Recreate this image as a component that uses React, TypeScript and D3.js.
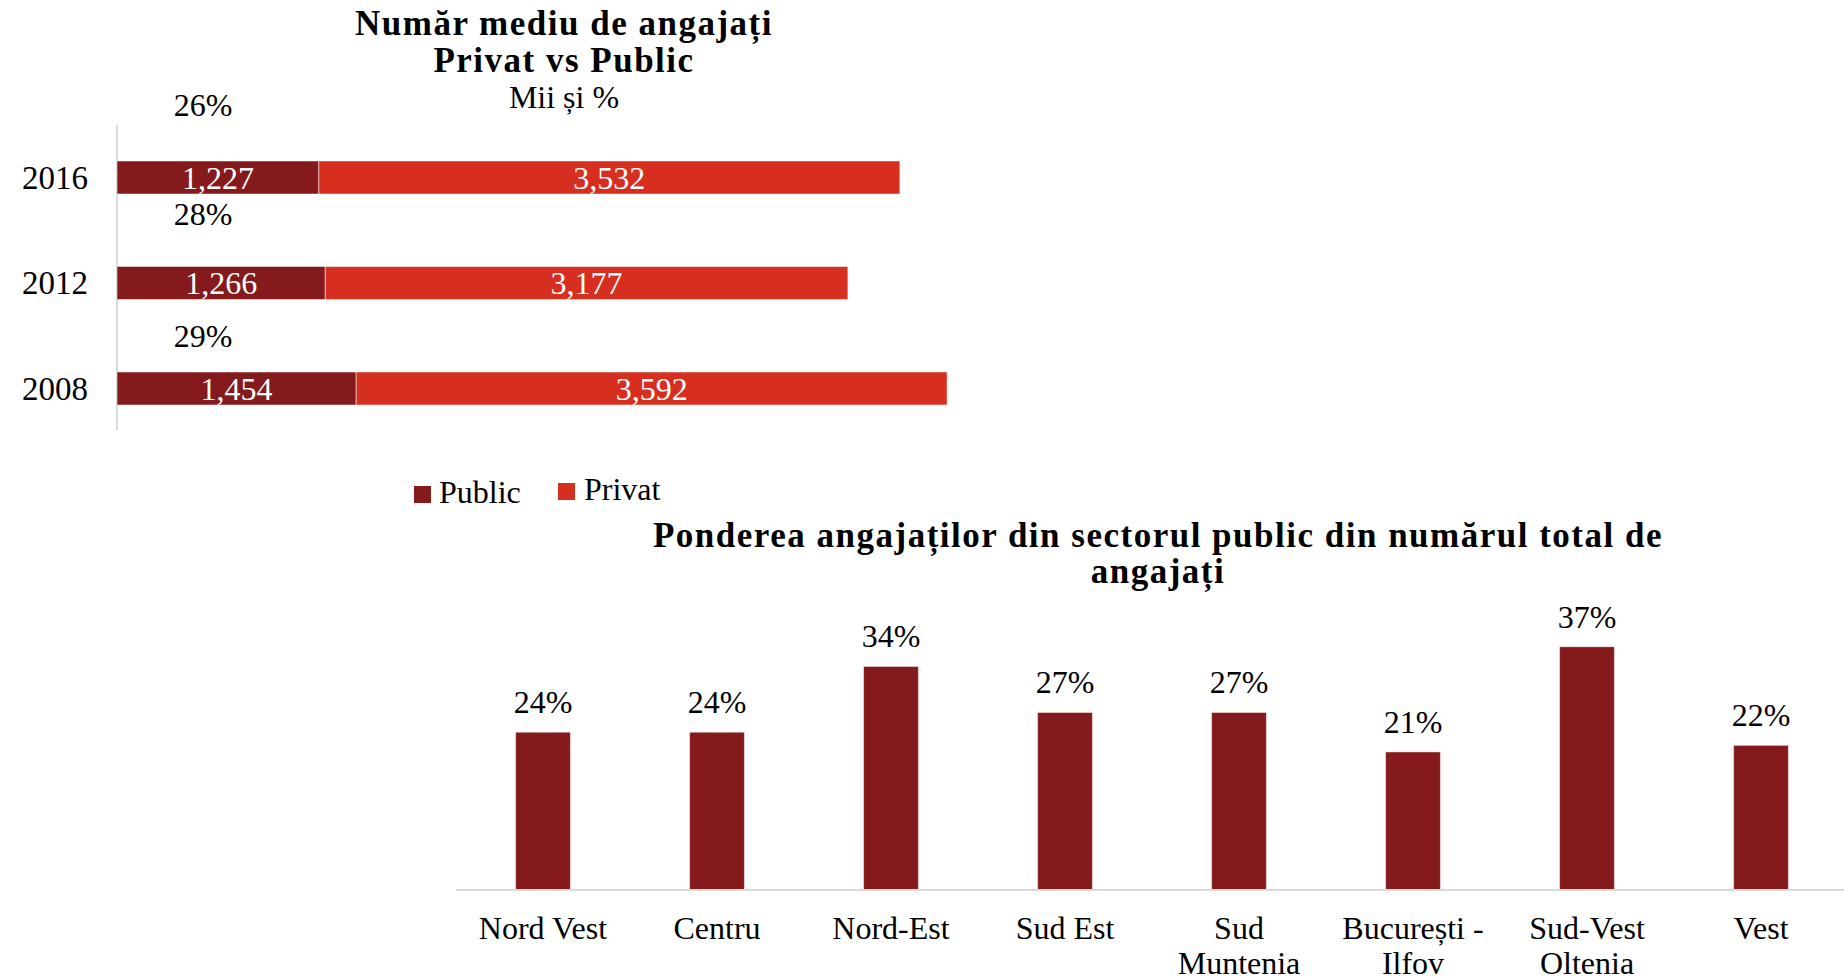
import React from "react";
import * as d3 from "d3";

// ---- Data ----
const years = ["2016", "2012", "2008"];
const publicValues = [1227, 1266, 1454];
const privateValues = [3532, 3177, 3592];
const shareLabels = ["26%", "28%", "29%"];

const regions = [
  "Nord Vest",
  "Centru",
  "Nord-Est",
  "Sud Est",
  "Sud\nMuntenia",
  "București -\nIlfov",
  "Sud-Vest\nOltenia",
  "Vest",
];
const publicShare = [0.24, 0.24, 0.34, 0.27, 0.27, 0.21, 0.37, 0.22];

const topTitle = ["Număr mediu de angajați", "Privat vs Public"];
const topSubtitle = "Mii și %";
const bottomTitle = ["Ponderea angajaților din sectorul public din numărul total de", "angajați"];
const legendItems = ["Public", "Privat"];

// ---- Style ----
const W = 1844;
const H = 978;
const FONT = "'Liberation Serif', 'Times New Roman', serif";
const C_PUBLIC = "#841a1c";
const C_PRIVATE = "#d62e1f";
const AXIS = "#d9d9d9";
const FS = 32;
const TITLE_FS = 35;
const TITLE_LS = 1.5;

// manual label placement offsets (layout, as in the reference)
const shareLabelDy = [-45, -41, -25];

export default function App() {
  const fmt = d3.format(",");

  // top chart scales
  const xL = d3.scaleLinear().domain([0, 6000]).range([117, 1104]);
  const yL = d3
    .scaleBand<string>()
    .domain(years)
    .range([124.75, 441.25])
    .paddingInner(0.687)
    .paddingOuter(0.3435);

  // bottom chart scales
  const xB = d3
    .scaleBand<string>()
    .domain(regions)
    .range([456, 1848])
    .paddingInner(0.685)
    .paddingOuter(0.3425);
  const yB = d3.scaleLinear().domain([0, 0.4]).range([890, 627]);
  const pct = d3.format(".0%");

  return (
    <svg
      width={W}
      height={H}
      viewBox={`0 0 ${W} ${H}`}
      style={{ position: "absolute", left: 0, top: 0, background: "#fff" }}
      fontFamily={FONT}
    >
      {/* Top title */}
      <text x={564} y={35} textAnchor="middle" fontSize={TITLE_FS} fontWeight="bold" letterSpacing={TITLE_LS}>
        {topTitle[0]}
      </text>
      <text x={564} y={72} textAnchor="middle" fontSize={TITLE_FS} fontWeight="bold" letterSpacing={TITLE_LS}>
        {topTitle[1]}
      </text>
      <text x={564} y={108} textAnchor="middle" fontSize={FS}>
        {topSubtitle}
      </text>

      {/* Top chart axis */}
      <line x1={117} x2={117} y1={125} y2={430} stroke={AXIS} strokeWidth={2} />

      {years.map((yr, i) => {
        const y0 = yL(yr)!;
        const bh = yL.bandwidth();
        const cy = y0 + bh / 2;
        const pub = publicValues[i];
        const pri = privateValues[i];
        return (
          <g key={yr}>
            <rect
              x={xL(0)}
              y={y0}
              width={xL(pub) - xL(0)}
              height={bh}
              fill={C_PUBLIC}
              stroke="#ffffff"
              strokeOpacity={0.5}
              strokeWidth={1}
            />
            <rect
              x={xL(pub)}
              y={y0}
              width={xL(pub + pri) - xL(pub)}
              height={bh}
              fill={C_PRIVATE}
              stroke="#ffffff"
              strokeOpacity={0.5}
              strokeWidth={1}
            />
            <text x={88} y={cy + 11} textAnchor="end" fontSize={33} fill="#000">
              {yr}
            </text>
            <text x={(xL(0) + xL(pub)) / 2} y={cy + 11} textAnchor="middle" fontSize={FS} fill="#fff">
              {fmt(pub)}
            </text>
            <text
              x={(xL(pub) + xL(pub + pri)) / 2}
              y={cy + 11}
              textAnchor="middle"
              fontSize={FS}
              fill="#fff"
            >
              {fmt(pri)}
            </text>
            <text x={203} y={y0 + shareLabelDy[i]} textAnchor="middle" fontSize={FS} fill="#000">
              {shareLabels[i]}
            </text>
          </g>
        );
      })}

      {/* Legend */}
      <rect x={414} y={486} width={17} height={17} fill={C_PUBLIC} />
      <text x={439} y={503} fontSize={FS}>
        {legendItems[0]}
      </text>
      <rect x={558} y={483} width={17} height={17} fill={C_PRIVATE} />
      <text x={584} y={500} fontSize={FS}>
        {legendItems[1]}
      </text>

      {/* Bottom title */}
      <text x={1158} y={547} textAnchor="middle" fontSize={TITLE_FS} fontWeight="bold" letterSpacing={TITLE_LS}>
        {bottomTitle[0]}
      </text>
      <text x={1158} y={583} textAnchor="middle" fontSize={TITLE_FS} fontWeight="bold" letterSpacing={TITLE_LS}>
        {bottomTitle[1]}
      </text>

      {/* Bottom bars */}
      {regions.map((r, i) => {
        const x0 = xB(r)!;
        const bw = xB.bandwidth();
        const v = publicShare[i];
        const top = yB(v);
        const lines = r.split("\n");
        return (
          <g key={r}>
            <rect
              x={x0}
              y={top}
              width={bw}
              height={yB(0) - top}
              fill={C_PUBLIC}
              stroke="#ffffff"
              strokeOpacity={0.5}
              strokeWidth={1}
            />
            <text x={x0 + bw / 2} y={top - 19} textAnchor="middle" fontSize={FS}>
              {pct(v)}
            </text>
            {lines.map((ln, j) => (
              <text key={j} x={x0 + bw / 2} y={939 + j * 35} textAnchor="middle" fontSize={FS}>
                {ln}
              </text>
            ))}
          </g>
        );
      })}
      <line x1={456} x2={1844} y1={890} y2={890} stroke={AXIS} strokeWidth={2} />
    </svg>
  );
}
